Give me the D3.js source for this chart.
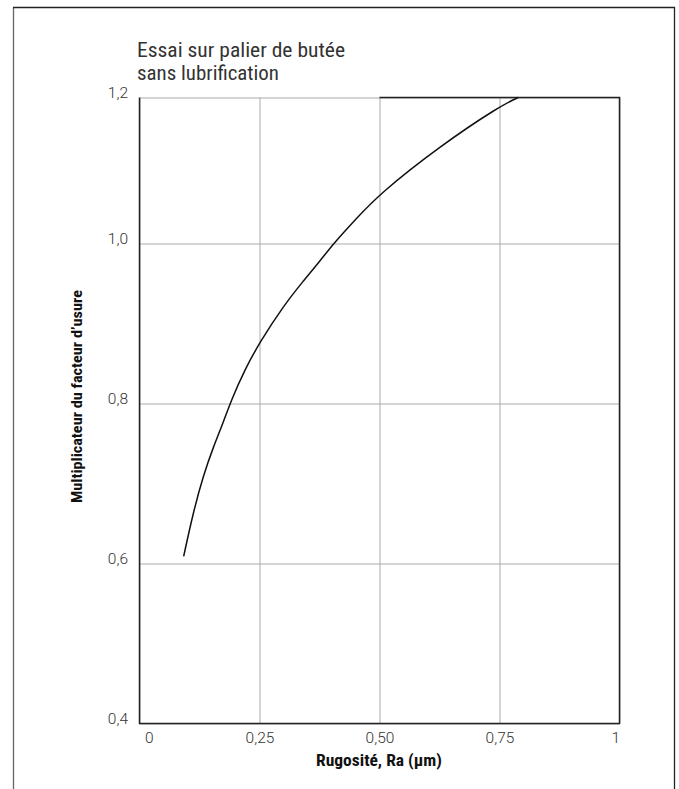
<!DOCTYPE html>
<html lang="fr">
	<head>
		<meta charset="utf-8">
		<title>Multiplicateur du facteur d'usure</title>
        <script type="text/javascript" src="https://cdn.jsdelivr.net/npm/d3@7"></script>
        <style>
            body { margin: 0; background: #fff; }
            text { font-family: 'Liberation Sans Narrow', 'Roboto Condensed', 'Liberation Sans', sans-serif; }
            .tick text { font-family: Roboto, 'Liberation Sans', sans-serif; font-weight: 300; }
        </style>
	</head>
	<body>
        <script type="text/javascript">
            // valeurs
            var rugosite = [0.092, 0.112, 0.133, 0.154, 0.175, 0.191, 0.22, 0.25, 0.30, 0.341, 0.376, 0.404, 0.45, 0.5, 0.625, 0.75, 0.789];
            var multiplicateur = [0.609, 0.664, 0.710, 0.746, 0.777, 0.804, 0.843, 0.876, 0.922, 0.953, 0.978, 1.0, 1.033, 1.068, 1.133, 1.188, 1.2];

            var xTicks = [0, 0.25, 0.5, 0.75, 1];
            var xTickLabels = ['0', '0,25', '0,50', '0,75', '1'];
            var yTicks = [0.4, 0.6, 0.8, 1.0, 1.2];
            var yTickLabels = ['0,4', '0,6', '0,8', '1,0', '1,2'];

            var w = 679;
            var h = 789;

            var x = d3.scaleLinear()
                        .domain([0, 1])
                        .range([139.5, 619.5]);

            // l'echelle du haut est un peu plus serree sur l'original
            var y = d3.scaleLinear()
                        .domain([0.4, 1.0, 1.2])
                        .range([723.5, 243.5, 97.5]);

            var svg = d3.select('body')
                        .append('svg')
                        .attr('width', w)
                        .attr('height', h);

            // cadre exterieur
            svg.append('line')
                .attr('x1', 13.5).attr('y1', 7.5)
                .attr('x2', 13.5).attr('y2', h)
                .attr('stroke', '#666')
                .attr('stroke-width', 1.3);
            svg.append('path')
                .attr('d', 'M13,7.5H674.5V' + h)
                .attr('fill', 'none')
                .attr('stroke', '#222')
                .attr('stroke-width', 1.3);

            // grille + graduations
            var yAxis = svg.append('g')
                .attr('transform', 'translate(' + x(0) + ',0)')
                .call(d3.axisLeft(y)
                    .tickValues(yTicks)
                    .tickFormat(function(d, i) { return yTickLabels[i]; })
                    .tickSize(-(x(1) - x(0)))
                    .tickPadding(11.5));

            var xAxis = svg.append('g')
                .attr('transform', 'translate(0,' + y(0.4) + ')')
                .call(d3.axisBottom(x)
                    .tickValues(xTicks)
                    .tickFormat(function(d, i) { return xTickLabels[i]; })
                    .tickSize(-(y(0.4) - y(1.2))));

            [yAxis, xAxis].forEach(function(g) {
                g.select('.domain').remove();
                g.selectAll('line').attr('stroke', '#aaa').attr('stroke-width', 1);
                g.selectAll('text')
                    .attr('fill', '#333')
                    .style('font-size', '15.5px');
            });
            yAxis.selectAll('text').attr('dy', '0.02em');
            xAxis.selectAll('text')
                .attr('y', 19.5)
                .attr('dy', 0)
                .attr('text-anchor', function(d, i) {
                    if (i == 0) return 'start';
                    if (i == xTicks.length - 1) return 'end';
                    return 'middle';
                })
                .attr('dx', function(d, i) { return i == 0 ? 5 : 0; });

            // cadre du graphique
            svg.append('path')
                .attr('d', 'M' + x(0.5) + ',' + y(1.2) + 'H' + x(1) + 'V' + y(0.4) + 'H' + x(0) + 'V' + y(1.2))
                .attr('fill', 'none')
                .attr('stroke', '#222')
                .attr('stroke-width', 1.5);

            // courbe
            var points = rugosite.map(function(r, i) { return [r, multiplicateur[i]]; });
            var line = d3.line()
                .x(function(d) { return x(d[0]); })
                .y(function(d) { return y(d[1]); })
                .curve(d3.curveBasis);

            svg.append('path')
                .datum(points)
                .attr('d', line)
                .attr('fill', 'none')
                .attr('stroke', '#111')
                .attr('stroke-width', 1.5);

            // titres
            svg.append('text')
                .attr('x', 137).attr('y', 57)
                .attr('fill', '#333')
                .style('font-size', '21px')
                .attr('textLength', 208)
                .attr('lengthAdjust', 'spacingAndGlyphs')
                .text('Essai sur palier de butée');
            svg.append('text')
                .attr('x', 137).attr('y', 80)
                .attr('fill', '#333')
                .style('font-size', '21px')
                .attr('textLength', 142)
                .attr('lengthAdjust', 'spacingAndGlyphs')
                .text('sans lubrification');

            svg.append('text')
                .attr('x', 316).attr('y', 766)
                .attr('fill', '#111')
                .style('font-size', '16px')
                .style('font-weight', 'bold')
                .attr('textLength', 126)
                .attr('lengthAdjust', 'spacingAndGlyphs')
                .text('Rugosité, Ra (µm)');

            svg.append('text')
                .attr('transform', 'translate(82,503) rotate(-90)')
                .attr('fill', '#111')
                .style('font-size', '15.5px')
                .style('font-weight', 'bold')
                .attr('textLength', 213)
                .attr('lengthAdjust', 'spacingAndGlyphs')
                .text('Multiplicateur du facteur d\u2019usure');
		</script>
	</body>
</html>
